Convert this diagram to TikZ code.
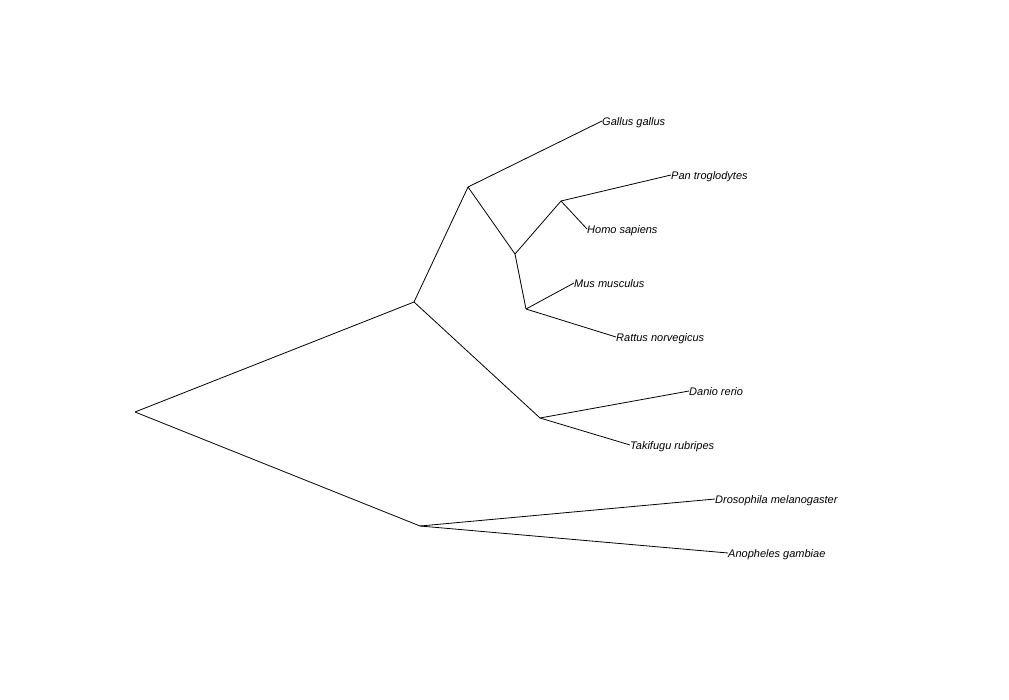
\documentclass[tikz,border=0pt]{standalone}
\usepackage{fontspec}
\setmainfont{Liberation Sans}
\begin{document}
\begin{tikzpicture}[x=1pt,y=-1pt,
  branch/.style={draw=black,line width=0.8pt},
  tip/.style={anchor=west,inner sep=0pt,text height=8pt,text depth=0pt,font=\fontsize{11}{13}\selectfont\itshape}]
\useasboundingbox (0,0) rectangle (1009,699);
\coordinate (root) at (135,412);
\coordinate (a) at (414,302);
\coordinate (b) at (420,526);
\coordinate (c) at (468,187);
\coordinate (d) at (515,254);
\coordinate (e) at (561,201);
\coordinate (f) at (526,309);
\coordinate (g) at (540,418);
\node[tip] (gal) at (602,121) {Gallus gallus};
\node[tip] (pan) at (671,175) {Pan troglodytes};
\node[tip] (hom) at (587,229) {Homo sapiens};
\node[tip] (mus) at (574,283) {Mus musculus};
\node[tip] (rat) at (616,337) {Rattus norvegicus};
\node[tip] (dan) at (689,391) {Danio rerio};
\node[tip] (tak) at (630,445) {Takifugu rubripes};
\node[tip] (dro) at (715,499) {Drosophila melanogaster};
\node[tip] (ano) at (728,553) {Anopheles gambiae};
\draw[branch] (root) -- (a);
\draw[branch] (root) -- (b);
\draw[branch] (a) -- (c);
\draw[branch] (a) -- (g);
\draw[branch] (c) -- (gal.west);
\draw[branch] (c) -- (d);
\draw[branch] (d) -- (e);
\draw[branch] (d) -- (f);
\draw[branch] (e) -- (pan.west);
\draw[branch] (e) -- (hom.west);
\draw[branch] (f) -- (mus.west);
\draw[branch] (f) -- (rat.west);
\draw[branch] (g) -- (dan.west);
\draw[branch] (g) -- (tak.west);
\draw[branch] (b) -- (dro.west);
\draw[branch] (b) -- (ano.west);
\end{tikzpicture}
\end{document}
